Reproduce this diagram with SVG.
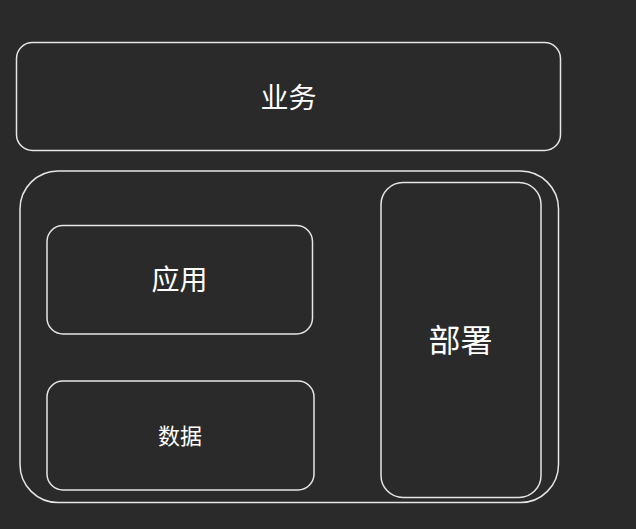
<svg xmlns="http://www.w3.org/2000/svg" width="636" height="529" viewBox="0 0 636 529">
<style>
.box{fill:#2a2a2a;stroke:#e6e6e6;stroke-width:1.5}
.lbl{fill:#ffffff;font-family:"Noto Sans CJK SC","Noto Sans",sans-serif;text-anchor:middle;dominant-baseline:central}
</style>
<rect x="0" y="0" width="636" height="529" fill="#2a2a2a"/>
<g id="business">
<rect class="box" x="16.5" y="42.5" width="544" height="108" rx="16"/>
<text class="lbl" x="288.5" y="95.5" font-size="28">业务</text>
</g>
<g id="platform">
<rect class="box" x="20" y="171" width="538.5" height="331.5" rx="38"/>
</g>
<g id="app">
<rect class="box" x="47" y="225.5" width="265.5" height="108.5" rx="16"/>
<text class="lbl" x="179.5" y="278" font-size="28">应用</text>
</g>
<g id="data">
<rect class="box" x="47" y="381" width="267" height="109" rx="16"/>
<text class="lbl" x="180" y="434" font-size="22">数据</text>
</g>
<g id="deploy">
<rect class="box" x="381" y="182.5" width="160" height="315" rx="22"/>
<text class="lbl" x="460.5" y="337.5" font-size="32">部署</text>
</g>
<g id="connectors"/>
</svg>
